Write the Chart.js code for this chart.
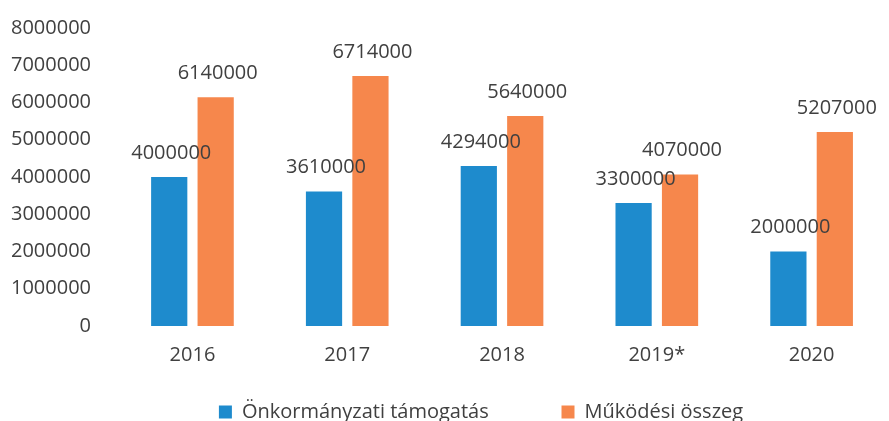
<!DOCTYPE html>
<html>
<head>
<meta charset="utf-8">
<script src="https://cdn.jsdelivr.net/npm/chart.js@4/dist/chart.umd.min.js"></script>
<style>
  html, body { margin: 0; padding: 0; background: #fff; }
  #wrap { width: 889px; height: 421px; }
</style>
</head>
<body>
<div id="wrap"><canvas id="bars"></canvas></div>
<script>
var years = ["2016", "2017", "2018", "2019*", "2020"];
var onkormanyzati = [4000000, 3610000, 4294000, 3300000, 2000000];
var mukodesi = [6140000, 6714000, 5640000, 4070000, 5207000];
var yTicks = [0, 1000000, 2000000, 3000000, 4000000, 5000000, 6000000, 7000000, 8000000];

var textColor = "#404040";
var fontFamily = "'Open Sans', sans-serif";

// value labels above each bar
var valueLabels = {
  id: "valueLabels",
  afterLayout: function (chart) {
    // legend in the original sits a bit right of centre
    chart.legend.left += 78;
  },
  afterDatasetsDraw: function (chart) {
    var ctx = chart.ctx;
    ctx.save();
    ctx.font = "20px " + fontFamily;
    ctx.fillStyle = textColor;
    ctx.textAlign = "center";
    ctx.textBaseline = "middle";
    chart.data.datasets.forEach(function (ds, i) {
      chart.getDatasetMeta(i).data.forEach(function (bar, j) {
        ctx.fillText(String(ds.data[j]), bar.x + 2, bar.y - 24);
      });
    });
    ctx.restore();
  }
};

var ctx = document.getElementById("bars").getContext("2d");
var chart = new Chart(ctx, {
  type: "bar",
  data: {
    labels: years,
    datasets: [
      {
        label: "Önkormányzati támogatás",
        data: onkormanyzati,
        backgroundColor: "#1E8BCD",
      },
      {
        label: "Működési összeg",
        data: mukodesi,
        backgroundColor: "#F6874C",
      },
    ],
  },
  options: {
    responsive: true,
    maintainAspectRatio: false,
    animation: false,
    layout: { padding: { top: -15, left: -5, right: 0, bottom: -11 } },
    datasets: {
      bar: { categoryPercentage: 0.6, barPercentage: 0.78 }
    },
    plugins: {
      legend: {
        position: "bottom",
        labels: {
          color: textColor,
          font: { family: fontFamily, size: 20 },
          boxWidth: 13,
          boxHeight: 13,
          padding: 26,
          // wider gap between the two legend items
          generateLabels: function (chart) {
            var items = Chart.defaults.plugins.legend.labels.generateLabels(chart);
            items[0].text = items[0].text + "         ";
            return items;
          },
        },
      },
      tooltip: { enabled: false },
    },
    scales: {
      x: {
        grid: { display: false },
        border: { display: false },
        ticks: { color: textColor, font: { family: fontFamily, size: 20 }, padding: 9 },
      },
      y: {
        min: 0,
        max: 8000000,
        afterBuildTicks: function (axis) {
          axis.ticks = yTicks.map(function (v) { return { value: v }; });
        },
        grid: { display: false },
        border: { display: false },
        ticks: {
          color: textColor,
          font: { family: fontFamily, size: 20 },
          padding: 16,
          callback: function (v) { return String(v); },
        },
      },
    },
  },
  plugins: [valueLabels],
});
</script>
</body>
</html>
